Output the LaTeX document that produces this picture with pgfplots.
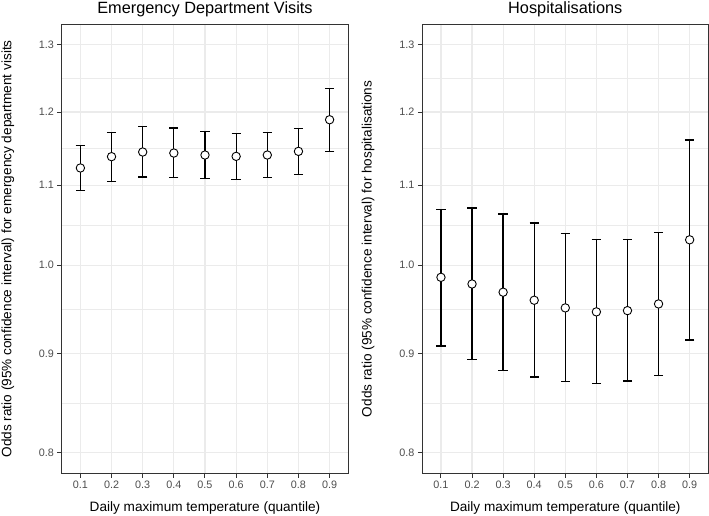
\documentclass[border=0pt]{standalone}
\usepackage{fontspec}
\setmainfont{Liberation Sans}
\usepackage{pgfplots}
\pgfplotsset{compat=1.18}
\usepackage{pgfplotstable}
\definecolor{grid92}{HTML}{EBEBEB}
\definecolor{grey20}{HTML}{333333}
\definecolor{grey30}{HTML}{4D4D4D}

\pgfplotstableread{
x y lo hi
0.1 1.1227 1.0933 1.1533
0.2 1.1379 1.1050 1.1712
0.3 1.1442 1.1107 1.1791
0.4 1.1428 1.1103 1.1772
0.5 1.1401 1.1086 1.1721
0.6 1.1383 1.1077 1.1694
0.7 1.1401 1.1099 1.1712
0.8 1.1451 1.1143 1.1768
0.9 1.1890 1.1447 1.2344
}\edtable

\pgfplotstableread{
x y lo hi
0.1 0.9857 0.9083 1.0690
0.2 0.9779 0.8940 1.0706
0.3 0.9684 0.8824 1.0630
0.4 0.9592 0.8755 1.0514
0.5 0.9505 0.8707 1.0385
0.6 0.9460 0.8689 1.0307
0.7 0.9474 0.8714 1.0307
0.8 0.9550 0.8771 1.0398
0.9 1.0307 0.9148 1.1606
}\hosptable

\begin{document}
\begin{tikzpicture}
\useasboundingbox (0,0) rectangle (709bp,516bp);
\begin{axis}[at={(61.7bp,42.7bp)}, anchor=south west, width=286.6bp,
    ymode=log, scale only axis, height=449bp,
    xmin=0.04, xmax=0.96, ymin=0.7808, ymax=1.3320,
    xtick={0.1,0.2,0.3,0.4,0.5,0.6,0.7,0.8,0.9},
    xticklabels={0.1,0.2,0.3,0.4,0.5,0.6,0.7,0.8,0.9},
    ytick={0.8,0.9,1.0,1.1,1.2,1.3},
    yticklabels={0.8,0.9,1.0,1.1,1.2,1.3},
    minor ytick={0.8485,0.9487,1.0488,1.1489,1.2490},
    grid=both,
    major grid style={grid92, line width=1.1bp},
    minor grid style={grid92, line width=0.55bp},
    axis line style={grey20, line width=1bp},
    tick align=outside, major tick length=4.4bp, minor tick length=0pt,
    tick style={grey20, line width=1bp},
    tick pos=left,
    ticklabel style={font=\fontsize{10.8bp}{12bp}\selectfont, text=grey30},
    /pgf/number format/assume math mode=true,
    label style={font=\fontsize{13.6bp}{15bp}\selectfont},
    title style={font=\fontsize{16.3bp}{18bp}\selectfont, at={(axis description cs:0.5,1.0118)}, anchor=base},
    xlabel style={at={(axis description cs:0.5,-0.0851)}, anchor=base},
    xlabel={Daily maximum temperature (quantile)},
    title={Emergency Department Visits},
    ylabel={Odds ratio (95\% confidence interval) for emergency department visits},
    ylabel style={at={(axis description cs:-0.1752,0.5)}, anchor=base}]
\addplot[only marks, mark=none,
    error bars/.cd, y dir=both, y explicit,
    error bar style={black, line width=1.3bp},
    error mark options={rotate=90, black, line width=1.3bp, mark size=4.65bp}]
  table[x=x, y=y, y error plus expr=\thisrow{hi}-\thisrow{y}, y error minus expr=\thisrow{y}-\thisrow{lo}] {\edtable};
\addplot[only marks, mark=*, mark size=4.2bp,
    mark options={fill=white, draw=black, line width=0.9bp}] table[x=x, y=y] {\edtable};
\end{axis}
\begin{axis}[at={(422.3bp,42.7bp)}, anchor=south west, width=286bp,
    ymode=log, scale only axis, height=449bp,
    xmin=0.04, xmax=0.96, ymin=0.7808, ymax=1.3320,
    xtick={0.1,0.2,0.3,0.4,0.5,0.6,0.7,0.8,0.9},
    xticklabels={0.1,0.2,0.3,0.4,0.5,0.6,0.7,0.8,0.9},
    ytick={0.8,0.9,1.0,1.1,1.2,1.3},
    yticklabels={0.8,0.9,1.0,1.1,1.2,1.3},
    minor ytick={0.8485,0.9487,1.0488,1.1489,1.2490},
    grid=both,
    major grid style={grid92, line width=1.1bp},
    minor grid style={grid92, line width=0.55bp},
    axis line style={grey20, line width=1bp},
    tick align=outside, major tick length=4.4bp, minor tick length=0pt,
    tick style={grey20, line width=1bp},
    tick pos=left,
    ticklabel style={font=\fontsize{10.8bp}{12bp}\selectfont, text=grey30},
    /pgf/number format/assume math mode=true,
    label style={font=\fontsize{13.6bp}{15bp}\selectfont},
    title style={font=\fontsize{16.3bp}{18bp}\selectfont, at={(axis description cs:0.5,1.0118)}, anchor=base},
    xlabel style={at={(axis description cs:0.5,-0.0851)}, anchor=base},
    xlabel={Daily maximum temperature (quantile)},
    title={Hospitalisations},
    ylabel={Odds ratio (95\% confidence interval) for hospitalisations},
    ylabel style={at={(axis description cs:-0.1776,0.5)}, anchor=base}]
\addplot[only marks, mark=none,
    error bars/.cd, y dir=both, y explicit,
    error bar style={black, line width=1.3bp},
    error mark options={rotate=90, black, line width=1.3bp, mark size=4.65bp}]
  table[x=x, y=y, y error plus expr=\thisrow{hi}-\thisrow{y}, y error minus expr=\thisrow{y}-\thisrow{lo}] {\hosptable};
\addplot[only marks, mark=*, mark size=4.2bp,
    mark options={fill=white, draw=black, line width=0.9bp}] table[x=x, y=y] {\hosptable};
\end{axis}
\end{tikzpicture}
\end{document}
